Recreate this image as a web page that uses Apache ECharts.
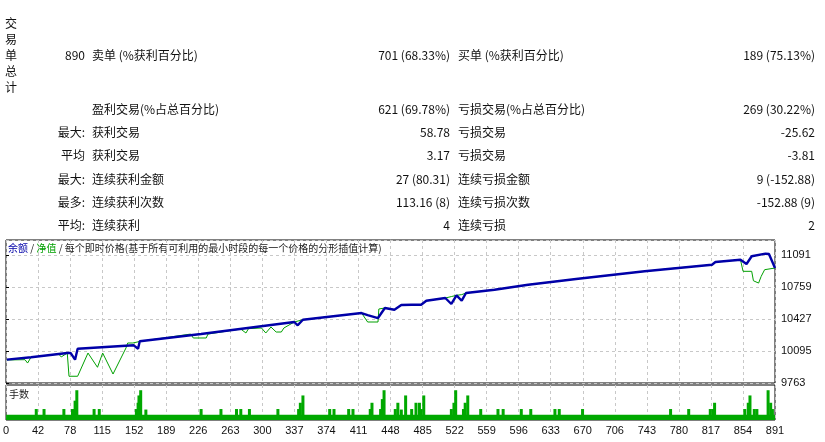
<!DOCTYPE html>
<html>
<head>
<meta charset="utf-8">
<script src="https://cdn.jsdelivr.net/npm/echarts@6/dist/echarts.min.js"></script>
<style>
  body { margin: 0; background: #fff; }
  #wrap { position: relative; width: 825px; height: 442px; font-family: "Noto Sans CJK SC", sans-serif; font-size: 12px; color: #111; }
  #chart { position: absolute; left: 0; top: 0; width: 825px; height: 442px; }
  .t { position: absolute; white-space: nowrap; line-height: 16px; }
  .r { text-align: right; }
</style>
</head>
<body>
<div id="wrap">
  <div id="chart"></div>
  <div id="report"></div>
</div>
<script>
// summary rows: [left label, left value, mid label, mid value, right label, right value]
var sideLabel = ['交', '易', '单', '总', '计'];
var rows = [
    ['', '890', '卖单 (%获利百分比)', '701 (68.33%)', '买单 (%获利百分比)', '189 (75.13%)'],
    ['', '', '盈利交易(%占总百分比)', '621 (69.78%)', '亏损交易(%占总百分比)', '269 (30.22%)'],
    ['最大:', '', '获利交易', '58.78', '亏损交易', '-25.62'],
    ['平均', '', '获利交易', '3.17', '亏损交易', '-3.81'],
    ['最大:', '', '连续获利金额', '27 (80.31)', '连续亏损金额', '9 (-152.88)'],
    ['最多:', '', '连续获利次数', '113.16 (8)', '连续亏损次数', '-152.88 (9)'],
    ['平均:', '', '连续获利', '4', '连续亏损', '2']
];
var rowY = [47, 101, 124, 147, 171, 194, 217];

// balance / equity curves: [trade #, value]
var balance = [
    [1, 10005], [29, 10030], [71, 10074], [75, 10074], [80, 10005], [83, 10119],
    [148, 10154], [153, 10119], [155, 10196], [226, 10271], [334, 10396], [338, 10362],
    [344, 10420], [412, 10489], [419, 10468], [431, 10437], [439, 10541], [450, 10523],
    [458, 10572], [470, 10575], [481, 10575], [487, 10617], [509, 10645], [516, 10583],
    [522, 10673], [528, 10617], [533, 10697], [566, 10731], [605, 10783], [663, 10845],
    [740, 10922], [818, 10990], [819, 10977], [822, 11018], [851, 11042], [858, 10998],
    [864, 11078], [880, 11105], [884, 11102], [891, 10956]
];
var equity = [
    [1, 10002], [22, 10005], [25, 9970], [29, 10030], [61, 10064], [64, 10033],
    [71, 10074], [73, 9833], [83, 9833], [95, 10074], [106, 9926], [112, 10074],
    [124, 9856], [139, 10126], [141, 10178], [147, 10178], [156, 10196], [214, 10271],
    [217, 10230], [232, 10230], [234, 10271], [272, 10323], [278, 10282], [281, 10327],
    [296, 10334], [301, 10282], [307, 10344], [313, 10292], [319, 10292], [322, 10334],
    [334, 10396], [344, 10420], [412, 10489], [419, 10396], [431, 10396], [432, 10531],
    [439, 10541], [450, 10523], [458, 10572], [470, 10575], [481, 10575], [487, 10617],
    [509, 10645], [516, 10660], [522, 10673], [528, 10680], [533, 10697], [566, 10731],
    [605, 10783], [663, 10845], [740, 10922], [770, 10950], [772, 10930], [775, 10955],
    [818, 10990], [822, 11018], [851, 11042], [854, 10922], [864, 10922], [866, 10824],
    [872, 10800], [875, 10870], [879, 10939], [880, 10956], [891, 10956]
];

// lots per trade (spikes) and baseline lot strip
var lotSpikes = [
    [35, 2.1], [44, 2.1], [67, 2.1], [77, 2.1], [80, 3.7], [82, 5.7], [102, 2.1], [108, 2.1],
    [151, 2.1], [153, 3.3], [154, 4.7], [156, 5.7], [162, 2], [226, 2.1], [249, 2.1], [267, 2.1],
    [272, 2.1], [282, 2.1], [315, 2.1], [339, 2.1], [341, 3.3], [344, 4.7], [375, 2.1], [380, 2.1],
    [397, 2.1], [402, 2.1], [422, 2.1], [424, 3.3], [434, 2.1], [436, 4], [438, 5.7], [451, 2.1],
    [454, 3.3], [458, 2], [463, 4.7], [470, 2.1], [475, 3.3], [479, 3.3], [481, 2.1], [484, 4.7],
    [516, 2.1], [519, 3.3], [521, 5.7], [530, 2.1], [532, 3.3], [535, 4.7], [550, 2.1], [570, 2.1],
    [576, 2.1], [597, 2.1], [608, 2.1], [636, 2.1], [641, 2.1], [668, 2.1], [770, 2.1], [791, 2.1],
    [816, 2.1], [819, 2.1], [821, 3.3], [856, 2.1], [860, 3.3], [862, 4.7], [867, 2.1], [870, 2.1],
    [883, 5.7], [886, 3.3], [888, 2.1]
];
var baseLots = [[0, 1], [891, 1]];

var xTickLabels = ['0', '42', '78', '115', '152', '189', '226', '263', '300', '337', '374', '411', '448',
    '485', '522', '559', '596', '633', '670', '706', '743', '780', '817', '854', '891'];
var yMin = 9763, yStep = 332;

// report text
var html = '';
sideLabel.forEach(function(ch, i) {
    html += '<div class="t" style="left:5px;top:' + (15 + i * 16) + 'px">' + ch + '</div>';
});
rows.forEach(function(r, i) {
    var y = rowY[i];
    if (r[0]) html += '<div class="t r" style="right:740px;top:' + y + 'px">' + r[0] + '</div>';
    if (r[1]) html += '<div class="t r" style="right:740px;top:' + y + 'px">' + r[1] + '</div>';
    html += '<div class="t" style="left:92px;top:' + y + 'px">' + r[2] + '</div>';
    html += '<div class="t r" style="right:375px;top:' + y + 'px">' + r[3] + '</div>';
    html += '<div class="t" style="left:458px;top:' + y + 'px">' + r[4] + '</div>';
    html += '<div class="t r" style="right:10px;top:' + y + 'px">' + r[5] + '</div>';
});
document.getElementById('report').innerHTML = html;

var chart = echarts.init(document.getElementById('chart'));
var gridLine = { show: true, lineStyle: { color: '#c8c8c8', type: [3, 3], width: 1 } };
var xInterval = 891 / 24;

chart.setOption({
    animation: false,
    grid: [
        { left: 6, top: 240, width: 769, height: 143, show: true, borderColor: '#000', borderWidth: 1 },
        { left: 6, top: 385, width: 769, height: 35, show: true, borderColor: '#000', borderWidth: 1 }
    ],
    xAxis: [
        { type: 'value', gridIndex: 0, min: 0, max: 891, interval: xInterval,
          axisLabel: { show: false }, axisTick: { show: false }, axisLine: { show: false }, splitLine: gridLine },
        { type: 'value', gridIndex: 1, min: 0, max: 891, interval: xInterval,
          axisLine: { show: false }, axisTick: { show: false }, splitLine: gridLine,
          axisLabel: { color: '#111', fontSize: 11, fontFamily: 'Liberation Sans', margin: 5,
              formatter: function(v) { return xTickLabels[Math.round(v / xInterval)]; } } }
    ],
    yAxis: [
        { type: 'value', gridIndex: 0, position: 'right', min: yMin, max: 11247, interval: yStep,
          axisLine: { show: false }, splitLine: gridLine,
          axisTick: { show: true, length: 3, lineStyle: { color: '#000' } },
          axisLabel: { color: '#111', fontSize: 11, fontFamily: 'Liberation Sans', margin: 6, showMaxLabel: false,
              formatter: function(v) { return String(Math.round(v)); } } },
        { type: 'value', gridIndex: 1, min: 0, max: 6.7, axisLabel: { show: false },
          axisLine: { show: false }, axisTick: { show: false }, splitLine: { show: false } }
    ],
    graphic: [{
        type: 'text', left: 8, top: 243,
        style: {
            text: '{b|余额} / {g|净值} / 每个即时价格(基于所有可利用的最小时段的每一个价格的分形插值计算)',
            font: '10px "Noto Sans CJK SC"', fill: '#222',
            rich: { b: { fill: '#0000a8', font: '10px "Noto Sans CJK SC"' }, g: { fill: '#00a000', font: '10px "Noto Sans CJK SC"' } }
        }
    }, {
        type: 'text', left: 9, top: 389,
        style: { text: '手数', font: '10px "Noto Sans CJK SC"', fill: '#222' }
    }],
    series: [
        { name: '净值', type: 'line', xAxisIndex: 0, yAxisIndex: 0, data: equity, symbol: 'none',
          lineStyle: { color: '#00a000', width: 1 }, z: 2 },
        { name: '余额', type: 'line', xAxisIndex: 0, yAxisIndex: 0, data: balance, symbol: 'none',
          lineStyle: { color: '#0000a8', width: 2.4 }, z: 3 },
        { name: '基础手数', type: 'line', xAxisIndex: 1, yAxisIndex: 1, data: baseLots, symbol: 'none',
          lineStyle: { width: 0 }, areaStyle: { color: '#00a800', opacity: 1 } },
        { name: '手数', type: 'bar', xAxisIndex: 1, yAxisIndex: 1, data: lotSpikes, barWidth: 3,
          itemStyle: { color: '#00a800' } }
    ]
});
</script>
</body>
</html>
